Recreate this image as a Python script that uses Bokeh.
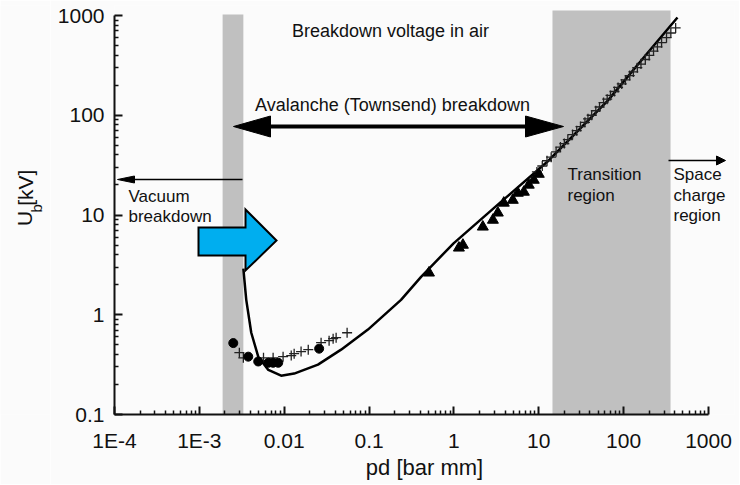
import math
from bokeh.plotting import figure
from bokeh.layouts import row
from bokeh.models import FixedTicker, Label, Arrow, NormalHead, Range1d
from bokeh.core.properties import value
from bokeh.embed import file_html
from bokeh.resources import INLINE

# ---------------- data ----------------
theory_pd = [0.0033, 0.00357, 0.00409, 0.00494, 0.0065, 0.0092, 0.0131, 0.025, 0.0468,
             0.097, 0.238, 0.41, 0.99, 3.5, 13.0, 65.0, 200.0, 431.0]
theory_u = [2.9, 1.41, 0.66, 0.38, 0.28, 0.245, 0.257, 0.316, 0.447,
            0.71, 1.41, 2.4, 5.2, 13.3, 35.0, 140.0, 440.0, 955.0]

circle_pd = [0.00251, 0.00377, 0.00494, 0.0065, 0.0074, 0.0085, 0.0258]
circle_u = [0.52, 0.38, 0.34, 0.33, 0.33, 0.33, 0.457]

cross_low_pd = [0.00296, 0.0033, 0.0057, 0.0074, 0.0097, 0.0121, 0.0131, 0.0158, 0.0192,
                0.0272, 0.0338, 0.0377, 0.0409, 0.0551]
cross_low_u = [0.417, 0.37, 0.37, 0.37, 0.38, 0.39, 0.407, 0.427, 0.447,
               0.525, 0.55, 0.575, 0.589, 0.66]
cross_high_pd = [9.5, 11, 12.5, 14, 16, 18, 20, 22, 25, 28, 31, 35, 38, 42, 47, 52, 58, 64, 70,
                 78, 86, 95, 105, 118, 130, 145, 160, 180, 200, 225, 250, 280, 320, 360, 410]
cross_high_u = [27, 31, 35, 38, 43, 48, 52, 57, 64, 70, 77, 85, 92, 100, 111, 121, 134, 145, 158,
                173, 190, 206, 226, 250, 272, 300, 326, 362, 398, 440, 484, 534, 600, 668, 750]

tri_pd = [0.508, 1.145, 1.276, 2.19, 2.88, 3.29, 3.87, 4.94, 5.66, 6.67, 7.62, 8.73, 10.0]
tri_u = [2.63, 4.68, 5.0, 7.6, 8.9, 10.5, 13.2, 14.1, 16.6, 17.0, 20.0, 22.4, 25.7]

band_left = [0.00188, 14.5]
band_right = [0.0033, 357.0]

x_ticks = [1e-4, 1e-3, 0.01, 0.1, 1, 10, 100, 1000]
x_tick_labels = ["1E-4", "1E-3", "0.01", "0.1", "1", "10", "100", "1000"]
y_ticks = [0.1, 1, 10, 100, 1000]
y_tick_labels = ["0.1", "1", "10", "100", "1000"]

# ---------------- layout (page pixels) ----------------
LEFT_W = 50                       # narrow panel holding the y-axis title
FL, FR, FT, FB = 114.0, 734.0, 5.0, 414.0   # frame edges on the page
XPD, YPD = 594.0 / 7, 399.0 / 4   # pixels per decade
PAGE_H = 484
MAIN_W = 739 - LEFT_W


def dx(X):
    return 1e-4 * 10 ** ((X - FL) / XPD)


def dy(Y):
    return 0.1 * 10 ** ((FB - Y) / YPD)


FONT = "Liberation Sans"
BG = "#fbfbfb"
INK = "#111111"

p = figure(width=MAIN_W, height=PAGE_H, x_axis_type="log", y_axis_type="log",
           x_range=Range1d(1e-4, dx(FR)), y_range=Range1d(0.1, dy(FT)),
           output_backend="svg", toolbar_location=None,
           min_border_left=int(FL - LEFT_W), min_border_right=int(739 - FR),
           min_border_top=int(FT), min_border_bottom=int(PAGE_H - FB))
p.title.visible = False
p.background_fill_color = BG
p.border_fill_color = BG
p.outline_line_color = None
p.grid.visible = False

x_minor = [m * 10 ** e for e in range(-4, 3) for m in range(2, 10)]
y_minor = [m * 10 ** e for e in range(-1, 3) for m in range(2, 10)]
p.xaxis.ticker = FixedTicker(ticks=x_ticks, minor_ticks=x_minor)
p.yaxis.ticker = FixedTicker(ticks=y_ticks, minor_ticks=y_minor)
p.xaxis.major_label_overrides = dict(zip(x_ticks, x_tick_labels))
p.yaxis.major_label_overrides = dict(zip(y_ticks, y_tick_labels))
p.xaxis.bounds = (1e-4, 1000)
p.yaxis.bounds = (0.1, 1000)

for ax in (p.xaxis[0], p.yaxis[0]):
    ax.axis_line_width = 2
    ax.axis_line_color = INK
    ax.major_tick_line_width = 2
    ax.minor_tick_line_width = 1.5
    ax.major_tick_line_color = INK
    ax.minor_tick_line_color = INK
    ax.major_tick_in = 8
    ax.major_tick_out = 0
    ax.minor_tick_in = 4
    ax.minor_tick_out = 0
    ax.major_label_text_font = FONT
    ax.major_label_text_font_size = "21px"
    ax.major_label_text_color = INK

p.xaxis.major_label_standoff = 14
p.yaxis.major_label_standoff = 10
p.xaxis.axis_label = "pd [bar mm]"
p.xaxis.axis_label_text_font = FONT
p.xaxis.axis_label_text_font_size = "22px"
p.xaxis.axis_label_text_font_style = "normal"
p.xaxis.axis_label_text_color = INK
p.xaxis.axis_label_standoff = 0

# shaded regions
p.quad(left=band_left, right=band_right, bottom=[0.1, 0.1], top=[dy(14), dy(10)],
       fill_color="#c0c0c0", line_color=None)

# theory curve and measurements
p.line(theory_pd, theory_u, line_width=2.5, color="#000000")
p.scatter(cross_low_pd + cross_high_pd, cross_low_u + cross_high_u, marker="cross",
          size=10, line_width=1.3, color="#222222")
p.scatter(circle_pd, circle_u, marker="circle", size=9, color="#000000")
p.scatter(tri_pd, tri_u, marker="triangle", size=11, color="#000000")

# double-headed avalanche arrow
ay = 126
p.segment(x0=[dx(262)], y0=[dy(ay)], x1=[dx(530)], y1=[dy(ay)], line_width=4, color="#000000")
p.patches(xs=[[dx(233), dx(270), dx(270)], [dx(563), dx(525), dx(525)]],
          ys=[[dy(ay), dy(ay - 10.5), dy(ay + 10.5)], [dy(ay), dy(ay - 10.5), dy(ay + 10.5)]],
          fill_color="#000000", line_color="#000000")

# vacuum arrow (left)
vy = 179
p.segment(x0=[dx(130)], y0=[dy(vy)], x1=[dx(242)], y1=[dy(vy)], line_width=1.6, color="#000000")
p.patch(x=[dx(117), dx(134), dx(134)], y=[dy(vy), dy(vy - 3.5), dy(vy + 3.5)],
        fill_color="#000000", line_color="#000000")

# space charge arrow (right)
p.add_layout(Arrow(end=NormalHead(size=9, fill_color="#000000", line_color="#000000"),
                   x_start=dx(668), y_start=dy(160), x_end=dx(725), y_end=dy(160),
                   line_width=1.6, line_color="#000000"))

# blue block arrow
bx = [198, 245, 245, 276, 245, 245, 198]
by = [227, 227, 209, 240, 270, 255, 255]
p.patch(x=[dx(v) for v in bx], y=[dy(v) for v in by], fill_color="#00aeef",
        line_color="#000000", line_width=2, line_join="miter")


def lab(text, X, Y, align="left", size="17px"):
    p.add_layout(Label(x=dx(X), y=dy(Y), text=text, text_font=FONT, text_font_size=size,
                       text_align=align, text_baseline="middle", text_color=INK))


lab("Breakdown voltage in air", 390, 30, "center", "18px")
lab("Avalanche (Townsend) breakdown", 392, 104, "center", "18px")
lab("Vacuum", 128, 196)
lab("breakdown", 128, 216)
lab("Transition", 567, 174)
lab("region", 567, 195)
lab("Space", 673, 174)
lab("charge", 673, 195)
lab("region", 673, 215)

# ---------------- narrow left panel: y-axis title U_b [kV] ----------------
left = figure(width=LEFT_W, height=PAGE_H, x_range=Range1d(0, LEFT_W),
              y_range=Range1d(PAGE_H, 0), output_backend="svg", toolbar_location=None,
              x_axis_location=None, y_axis_location=None,
              min_border_left=0, min_border_right=0, min_border_top=0, min_border_bottom=0)
left.title.visible = False
left.background_fill_color = BG
left.border_fill_color = BG
left.outline_line_color = None
left.grid.visible = False
left.text(x=[24, 25], y=[261, 237], text=["U", "[kV]"], angle=math.pi / 2,
          text_font=value(FONT), text_font_size="21px", text_align="left",
          text_baseline="middle", text_color=INK)
left.text(x=[36], y=[245], text=["b"], angle=math.pi / 2,
          text_font=value(FONT), text_font_size="15px", text_align="left",
          text_baseline="middle", text_color=INK)

layout = row(left, p, spacing=0)
open("out.html", "w").write(file_html(layout, INLINE))
